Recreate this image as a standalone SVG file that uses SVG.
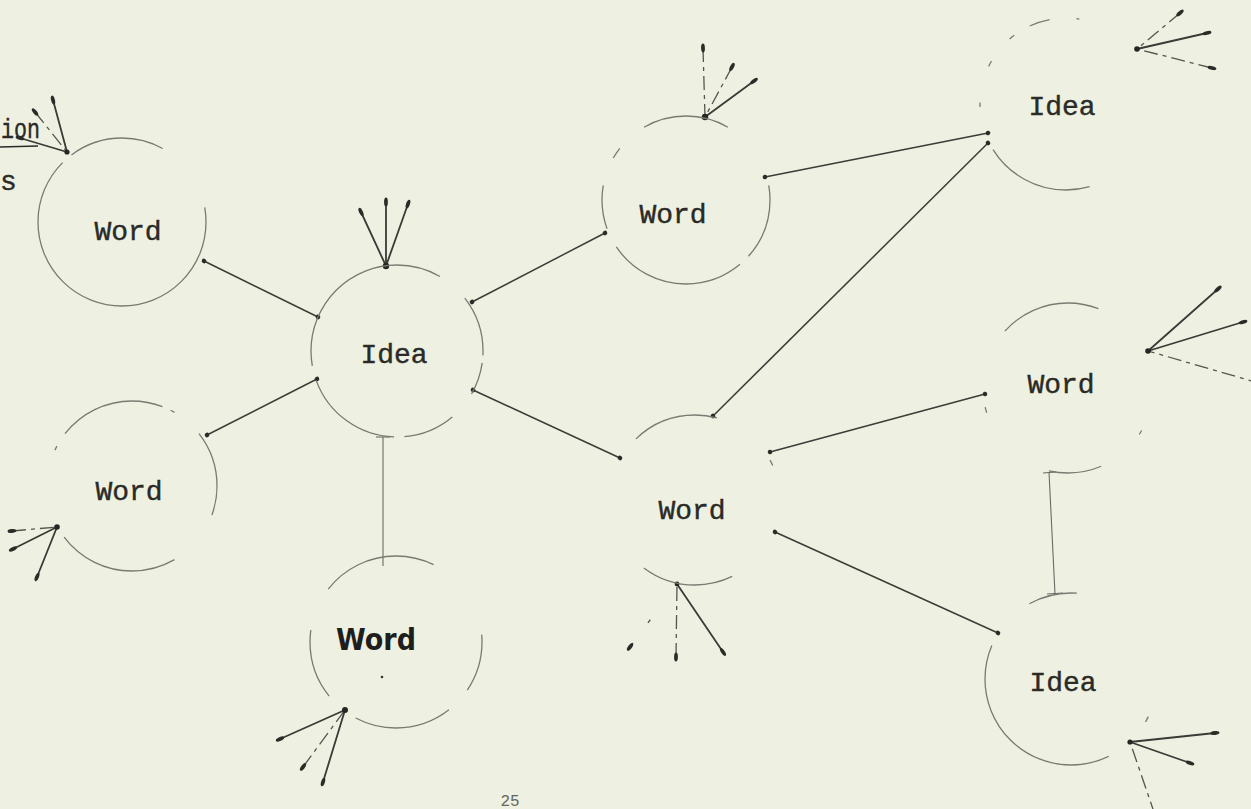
<svg xmlns="http://www.w3.org/2000/svg" width="1251" height="809" viewBox="0 0 1251 809">
<style>
.ring{fill:none;stroke:#7a7a72;stroke-width:1.3}
.tw{font-family:"Liberation Mono","Courier New",monospace;font-size:28px;fill:#2a2a27;stroke:#2a2a27;stroke-width:0.4;text-anchor:middle}
.hand{font-family:"DejaVu Sans","Liberation Sans",sans-serif;font-weight:bold;font-size:30px;fill:#1e1e1c;text-anchor:middle}
.link{stroke:#3c3c38;stroke-width:1.5;fill:none;marker-start:url(#dot);marker-end:url(#dot)}
.thin{stroke:#6a6a64;stroke-width:1.1;fill:none}
.ray{stroke:#3a3a36;stroke-width:1.8;fill:none;marker-start:url(#blob);stroke-linecap:round}
.rayd{stroke:#55554f;stroke-width:1.3;fill:none;stroke-dasharray:14 5 4 5;marker-start:url(#blob)}
.tip{fill:#262624}
</style>
<defs>
<marker id="dot" viewBox="-4 -4 8 8" markerWidth="8" markerHeight="8" markerUnits="userSpaceOnUse" orient="auto"><circle r="2.3" fill="#2b2b28"/></marker>
<marker id="blob" viewBox="-6 -3 12 6" markerWidth="12" markerHeight="6" markerUnits="userSpaceOnUse" orient="auto"><ellipse rx="4.5" ry="1.9" fill="#2b2b28"/></marker>
</defs>
<rect width="1251" height="809" fill="#eef1e1"/>

<g id="fragments">
<text class="tw" x="1" y="138" style="text-anchor:start" textLength="39" lengthAdjust="spacingAndGlyphs">ion</text>
<line x1="0" y1="147" x2="38" y2="146" stroke="#2a2a27" stroke-width="1.6"/>
<text class="tw" x="0" y="190" style="text-anchor:start">s</text>
<text x="510" y="806" font-family="Liberation Mono, monospace" font-size="16" fill="#66665f" text-anchor="middle">25</text>
</g>

<g id="connectors">
<line class="link" x1="204" y1="261" x2="318" y2="317"/>
<line class="link" x1="207" y1="435" x2="317" y2="379"/>
<line class="link" x1="472" y1="302" x2="605" y2="233"/>
<line class="link" x1="473" y1="390" x2="620" y2="458"/>
<line class="thin" x1="383" y1="437" x2="383" y2="566"/>
<line class="thin" x1="376" y1="437" x2="390" y2="437"/>
<line class="link" x1="765" y1="177" x2="988" y2="133"/>
<line class="link" x1="713" y1="416" x2="988" y2="143"/>
<line class="link" x1="770" y1="452" x2="985" y2="394"/>
<line class="link" x1="775" y1="532" x2="998" y2="633"/>
<line class="thin" x1="1049" y1="472" x2="1055" y2="594"/>
<line class="thin" x1="1043" y1="473" x2="1056" y2="472"/>
<line class="thin" x1="1047" y1="594" x2="1063" y2="593"/>
</g>

<g id="arrows">
<line class="ray" x1="53" y1="100" x2="67" y2="152"/>
<line class="rayd" x1="35" y1="112" x2="67" y2="152"/>
<line class="ray" x1="20" y1="138" x2="67" y2="152"/>
<circle class="tip" cx="67" cy="152" r="2.6"/>

<line class="ray" x1="361" y1="212" x2="386" y2="266"/>
<line class="ray" x1="386" y1="202" x2="386" y2="266"/>
<line class="ray" x1="408" y1="204" x2="386" y2="266"/>
<circle class="tip" cx="386" cy="266" r="3.2"/>

<line class="rayd" x1="703" y1="48" x2="705" y2="117"/>
<line class="rayd" x1="732" y1="67" x2="705" y2="117"/>
<line class="ray" x1="754" y1="81" x2="705" y2="117"/>
<circle class="tip" cx="705" cy="117" r="3.2"/>

<line class="rayd" x1="1180" y1="13" x2="1137" y2="49"/>
<line class="ray" x1="1207" y1="33" x2="1137" y2="49"/>
<line class="rayd" x1="1212" y1="68" x2="1137" y2="49"/>
<circle class="tip" cx="1137" cy="49" r="2.8"/>

<line class="ray" x1="1218" y1="289" x2="1148" y2="351"/>
<line class="ray" x1="1243" y1="322" x2="1148" y2="351"/>
<line class="rayd" x1="1262" y1="384" x2="1148" y2="351"/>
<circle class="tip" cx="1148" cy="351" r="2.8"/>

<line class="ray" x1="1215" y1="733" x2="1130" y2="742"/>
<line class="ray" x1="1190" y1="763" x2="1130" y2="742"/>
<line class="rayd" x1="1155" y1="815" x2="1130" y2="742"/>
<circle class="tip" cx="1130" cy="742" r="2.6"/>

<line class="rayd" x1="676" y1="657" x2="677" y2="584"/>
<line class="ray" x1="723" y1="652" x2="677" y2="584"/>
<line class="rayd" x1="630" y1="647" x2="677" y2="584" style="stroke-dasharray:5 25 4 60"/>
<circle class="tip" cx="677" cy="584" r="2.4"/>

<line class="ray" x1="280" y1="739" x2="345" y2="710"/>
<line class="rayd" x1="303" y1="767" x2="345" y2="710"/>
<line class="ray" x1="323" y1="782" x2="345" y2="710"/>
<circle class="tip" cx="345" cy="710" r="3"/>

<line class="rayd" x1="12" y1="531" x2="57" y2="527"/>
<line class="ray" x1="13" y1="549" x2="57" y2="527"/>
<line class="ray" x1="37" y1="577" x2="57" y2="527"/>
<circle class="tip" cx="57" cy="527" r="2.8"/>
</g>

<g id="word1">
<circle class="ring" cx="122" cy="222" r="84" pathLength="360" stroke-dasharray="225 8 66 51 10"/>
<text class="tw" x="128" y="240">Word</text>
</g>
<g id="word2">
<circle class="ring" cx="132" cy="486" r="85" pathLength="360" stroke-dasharray="20 40 83 62 3 10 73 6 3 22 38"/>
<text class="tw" x="129" y="500">Word</text>
</g>
<g id="idea-center">
<circle class="ring" cx="397" cy="351" r="86" pathLength="360" stroke-dasharray="3 5 22 20 35 7 68 10 130 22 38"/>
<text class="tw" x="394" y="363">Idea</text>
</g>
<g id="word-top">
<circle class="ring" cx="686" cy="200" r="84" pathLength="360" stroke-dasharray="42 8 96 14 30 20 8 22 60 50 10"/>
<text class="tw" x="673" y="223">Word</text>
</g>
<g id="idea-topright">
<circle class="ring" cx="1066" cy="104" r="86" pathLength="360" stroke-dasharray="0 74 74 30 3 25 4 19 4 12 14 18 2 81"/>
<text class="tw" x="1062" y="115">Idea</text>
</g>
<g id="word-right">
<circle class="ring" cx="1068" cy="388" r="85" pathLength="360" stroke-dasharray="0 30 3 34 36 60 4 55 69 69"/>
<text class="tw" x="1061" y="393">Word</text>
</g>
<g id="word-mid">
<circle class="ring" cx="695" cy="500" r="85" pathLength="360" stroke-dasharray="0 64 63 99 59 47 4 24"/>
<text class="tw" x="692" y="519">Word</text>
</g>
<g id="word-hand">
<circle class="ring" cx="396" cy="642" r="86" pathLength="360" stroke-dasharray="34 18 66 23 47 30 78 59 5"/>
<text class="hand" x="376" y="650" textLength="80" lengthAdjust="spacingAndGlyphs">Word</text>
<circle cx="382" cy="677" r="1.3" fill="#333"/>
</g>
<g id="idea-bottomright">
<circle class="ring" cx="1071" cy="679" r="86" pathLength="360" stroke-dasharray="0 26 4 34 139 38 33 86"/>
<text class="tw" x="1063" y="691">Idea</text>
</g>
</svg>
